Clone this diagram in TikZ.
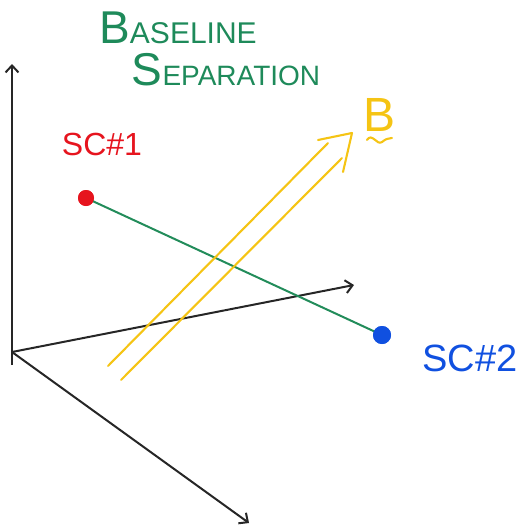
\documentclass[tikz,border=0pt]{standalone}
\usepackage{fontspec}
\setmainfont{Liberation Sans}
\usetikzlibrary{arrows.meta}
\definecolor{titlegreen}{RGB}{30,138,90}
\definecolor{linegreen}{RGB}{34,140,90}
\definecolor{scred}{RGB}{230,20,30}
\definecolor{scblue}{RGB}{16,80,224}
\definecolor{byellow}{RGB}{245,196,20}
\tikzset{
  axis/.style={line width=2pt, black!85, -{Straight Barb[length=7pt,width=13pt,line width=2pt]}},
  dotnode/.style={circle, inner sep=0pt, minimum size=16pt},
  lbl/.style={inner sep=0pt, anchor=center},
  yel/.style={line width=2.1pt, byellow, line cap=round, line join=round},
}
\begin{document}
\begin{tikzpicture}[x=1pt,y=-1pt]
\useasboundingbox (0,0) rectangle (520,525);
% title
\node[lbl, text=titlegreen] (t1) at (178,28) {{\fontsize{46}{46}\selectfont B}{\fontsize{30}{30}\selectfont ASELINE}};
\node[lbl, text=titlegreen] (t2) at (226,70) {{\fontsize{46}{46}\selectfont S}{\fontsize{28}{28}\selectfont EPARATION}};
% axes
\coordinate (O) at (12,352);
\coordinate (Ob) at (12,365);
\coordinate (Yt) at (12,64);
\coordinate (Xt) at (354,285);
\coordinate (Zt) at (249,523);
\draw[axis] (Ob) -- (Yt);
\draw[axis] (O) -- (Xt);
\draw[axis] (O) -- (Zt);
% spacecraft
\node[dotnode, fill=scred] (sc1) at (86,198) {};
\node[dotnode, fill=scblue, minimum size=18pt] (sc2) at (382,335) {};
\draw[line width=2pt, linegreen] (sc1.center) -- (sc2.center);
\node[dotnode, fill=scred] at (86,198) {};
\node[dotnode, fill=scblue, minimum size=18pt] at (382,335) {};
\node[lbl, text=scred, font=\fontsize{32}{32}\selectfont] (l1) at (102,144) {SC\#1};
\node[lbl, text=scblue, font=\fontsize{38}{38}\selectfont] (l2) at (470,358) {SC\#2};
% baseline vector
\coordinate (a1) at (108,366);
\coordinate (a2) at (328,143);
\coordinate (b1) at (121,380);
\coordinate (b2) at (342,158);
\coordinate (hl) at (318,140);
\coordinate (tip) at (352,133);
\coordinate (hr) at (343,172);
\draw[yel] (a1) -- (a2);
\draw[yel] (b1) -- (b2);
\draw[yel] (hl) -- (tip) -- (hr);
\node[lbl, text=byellow, font=\fontsize{48}{48}\selectfont] (B) at (380,115) {B};
\coordinate (w1) at (367,140);
\coordinate (w2) at (392,138);
\draw[yel] (w1) .. controls (372,132) and (377,146) .. (382,142) .. controls (386,139) .. (w2);
\end{tikzpicture}
\end{document}
